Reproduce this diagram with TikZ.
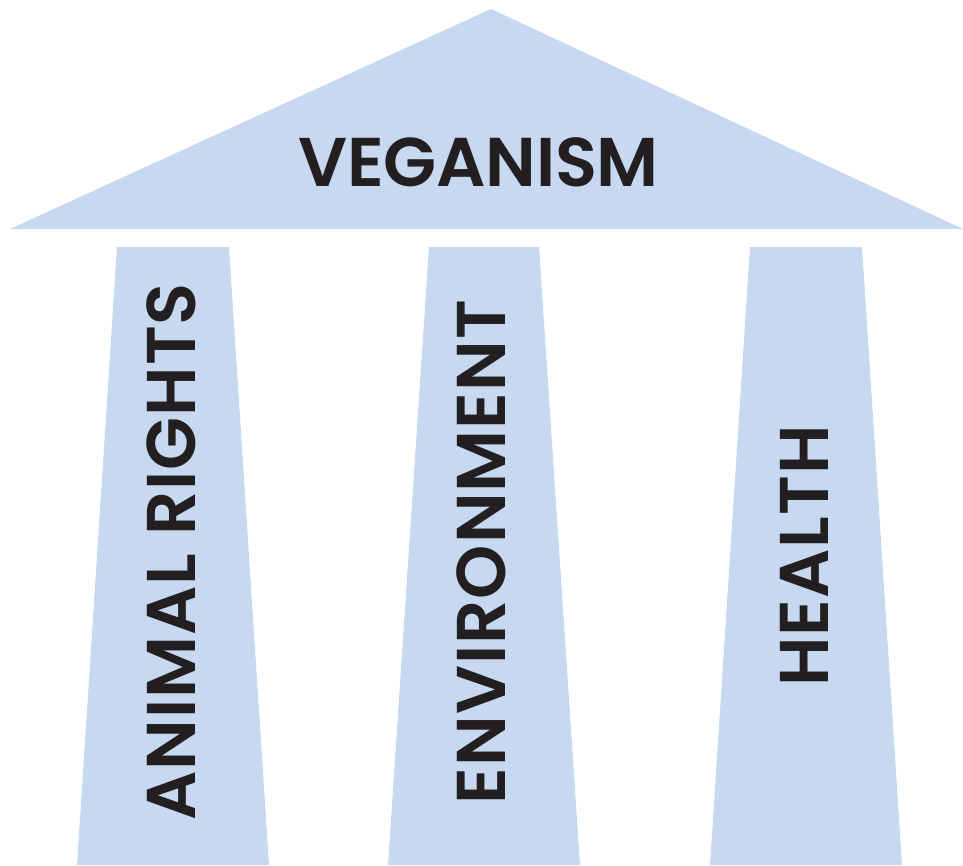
\documentclass[tikz,border=0pt]{standalone}
\usepackage{fontspec}
\setmainfont{Poppins}[BoldFont=* SemiBold, LetterSpace=1.5]
\newfontfamily\rooffont{Poppins}[BoldFont=* SemiBold, LetterSpace=-0.3]
\definecolor{pillarblue}{HTML}{C6D9F0}
\definecolor{textdark}{HTML}{231F20}
\tikzset{
  part/.style={fill=pillarblue, draw=none},
  lbl/.style={text=textdark, font=\fontsize{69}{69}\selectfont\bfseries, inner sep=0pt, anchor=center},
}
\begin{document}
\begin{tikzpicture}[x=1pt,y=-1pt]
\useasboundingbox (0,0) rectangle (963,865);
\fill[part] (10,229) -- (491,9) -- (963,229) -- cycle;
\fill[part] (117,247) -- (229,247) -- (269,865) -- (77,865) -- cycle;
\fill[part] (429,247) -- (539,247) -- (580,865) -- (388,865) -- cycle;
\fill[part] (750,247) -- (862,247) -- (902,865) -- (710,865) -- cycle;
\node[lbl, font=\rooffont\fontsize{69}{69}\selectfont\bfseries] (roof) at (478.5,162) {VEGANISM};
\node[lbl, rotate=90] (p1) at (171.5,552) {ANIMAL RIGHTS};
\node[lbl, rotate=90] (p2) at (481.5,552) {ENVIRONMENT};
\node[lbl, rotate=90] (p3) at (804,556) {HEALTH};
\end{tikzpicture}
\end{document}
